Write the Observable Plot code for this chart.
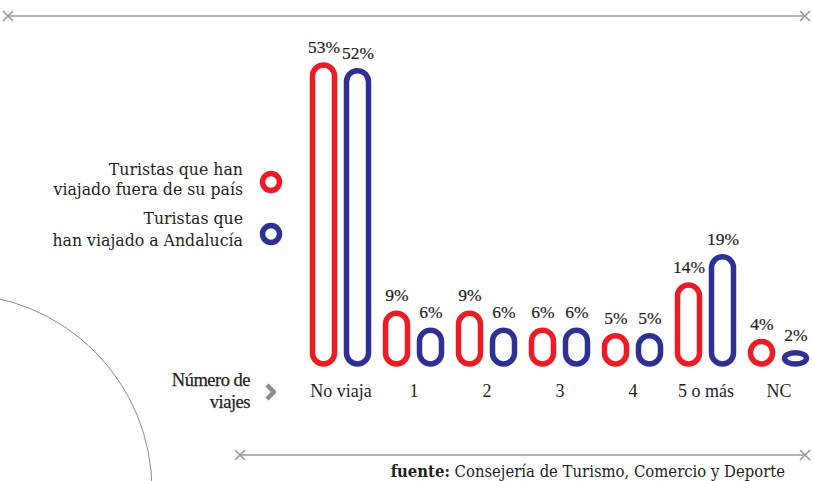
<!DOCTYPE html>
<html>
<head>
<meta charset="utf-8">
<script src="https://cdn.jsdelivr.net/npm/d3@7"></script>
<script src="https://cdn.jsdelivr.net/npm/@observablehq/plot@0.6"></script>
<style>
  html, body { margin: 0; padding: 0; background: #fff; }
  #wrap { position: relative; width: 813px; height: 481px; overflow: hidden; }
  #wrap > svg { position: absolute; left: 0; top: 0; }
  #deco { pointer-events: none; }
</style>
</head>
<body>
<div id="wrap"></div>
<script>
// ---- data ----
const categories = ["No viaja", "1", "2", "3", "4", "5 o más", "NC"];
const fueraValues = [53, 9, 9, 6, 5, 14, 4];        // Turistas que han viajado fuera de su país
const andaluciaValues = [52, 6, 6, 6, 5, 19, 2];    // Turistas que han viajado a Andalucía
const seriesLabels = [
  ["Turistas que han", "viajado fuera de su país"],
  ["Turistas que", "han viajado a Andalucía"]
];
const axisTitle = ["Número de", "viajes"];
const sourceLabel = "fuente:";
const sourceText = " Consejería de Turismo, Comercio y Deporte";

const RED = "#ec1c24";
const BLUE = "#2e3192";
const INK = "#231f20";
const GREY = "#9a9a9a";

const rows = categories.map((c, i) => ({cat: c, fuera: fueraValues[i], andalucia: andaluciaValues[i]}));

const SW = 5.5;
const chart = Plot.plot({
  width: 813,
  height: 481,
  marginTop: 0,
  marginBottom: 104,
  marginLeft: 0,
  marginRight: 0,
  style: {fontFamily: "'Liberation Serif', serif", fontSize: "16px", color: INK, background: "transparent"},
  x: {domain: categories, range: [303.5, 814.5], padding: 0, axis: null, label: null},
  y: {domain: [0, 53], range: [364, 65], axis: null, label: null},
  marks: [
    Plot.barY(rows, {x: "cat", y: "fuera", fill: "white", stroke: RED, strokeWidth: SW, rx: 11, insetLeft: 8.5, insetRight: 42.5}),
    Plot.barY(rows, {x: "cat", y: "andalucia", fill: "white", stroke: BLUE, strokeWidth: SW, rx: 11, insetLeft: 42.5, insetRight: 8.5}),
    Plot.text(rows, {x: "cat", y: "fuera", text: d => d.fuera + "%", dx: -17, dy: -18, fill: INK, fontSize: 17.5, stroke: INK, strokeWidth: 0.2}),
    Plot.text(rows, {x: "cat", y: "andalucia", text: d => d.andalucia + "%", dx: 17, dy: -18, fill: INK, fontSize: 17.5, stroke: INK, strokeWidth: 0.2}),
    Plot.axisX({anchor: "bottom", label: null, tickSize: 0, tickPadding: 7, fontSize: 18, fill: INK, tickFormat: d => d})
  ]
});
document.getElementById("wrap").appendChild(chart);

// ---- decorations (non-data) ----
const ns = "http://www.w3.org/2000/svg";
const deco = d3.select("#wrap").append("svg")
  .attr("id", "deco")
  .attr("width", 813).attr("height", 481)
  .attr("xmlns", ns);

function xMark(g, cx, cy) {
  const s = 5;
  g.append("path").attr("d", `M${cx - s},${cy - s}L${cx + s},${cy + s}M${cx - s},${cy + s}L${cx + s},${cy - s}`)
    .attr("stroke", GREY).attr("stroke-width", 1.6).attr("fill", "none");
}
// top rule
deco.append("line").attr("x1", 8).attr("x2", 805).attr("y1", 16).attr("y2", 16).attr("stroke", GREY).attr("stroke-width", 1.6);
xMark(deco, 8, 16); xMark(deco, 805, 16);
// bottom rule
deco.append("line").attr("x1", 240).attr("x2", 805).attr("y1", 455).attr("y2", 455).attr("stroke", GREY).attr("stroke-width", 1.6);
xMark(deco, 240, 455); xMark(deco, 805, 455);
// arc
deco.append("circle").attr("cx", -44).attr("cy", 490).attr("r", 196).attr("fill", "none").attr("stroke", "#8c8c8c").attr("stroke-width", 1);

// legend
const legFont = "'DejaVu Serif Condensed', 'DejaVu Serif', serif";
const legColors = [RED, BLUE];
const legY = [[174.5, 195], [224, 246]];
const circY = [182, 234];
seriesLabels.forEach((lines, i) => {
  lines.forEach((t, j) => {
    deco.append("text").attr("x", 243).attr("y", legY[i][j]).attr("text-anchor", "end")
      .attr("font-family", legFont).attr("font-size", 17.5).attr("fill", INK).text(t);
  });
  deco.append("circle").attr("cx", 271).attr("cy", circY[i]).attr("r", 8.5)
    .attr("fill", "white").attr("stroke", legColors[i]).attr("stroke-width", 5.5);
});

// axis title
[386, 407.5].forEach((y, j) => {
  deco.append("text").attr("x", 250).attr("y", y).attr("text-anchor", "end")
    .attr("font-family", "'Liberation Serif', serif").attr("font-size", 18.5).attr("letter-spacing", -0.5)
    .attr("stroke", INK).attr("stroke-width", 0.25)
    .attr("fill", INK).text(axisTitle[j]);
});
// chevron
deco.append("path").attr("d", "M267,385L274,392L267,399").attr("fill", "none").attr("stroke", "#8a8a8a").attr("stroke-width", 4.5).attr("stroke-linejoin", "round");

// source
const src = deco.append("text").attr("x", 785).attr("y", 477).attr("text-anchor", "end")
  .attr("font-family", legFont).attr("font-size", 16.5).attr("fill", INK);
src.append("tspan").attr("font-weight", "bold").text(sourceLabel);
src.append("tspan").text(sourceText);
</script>
</body>
</html>
